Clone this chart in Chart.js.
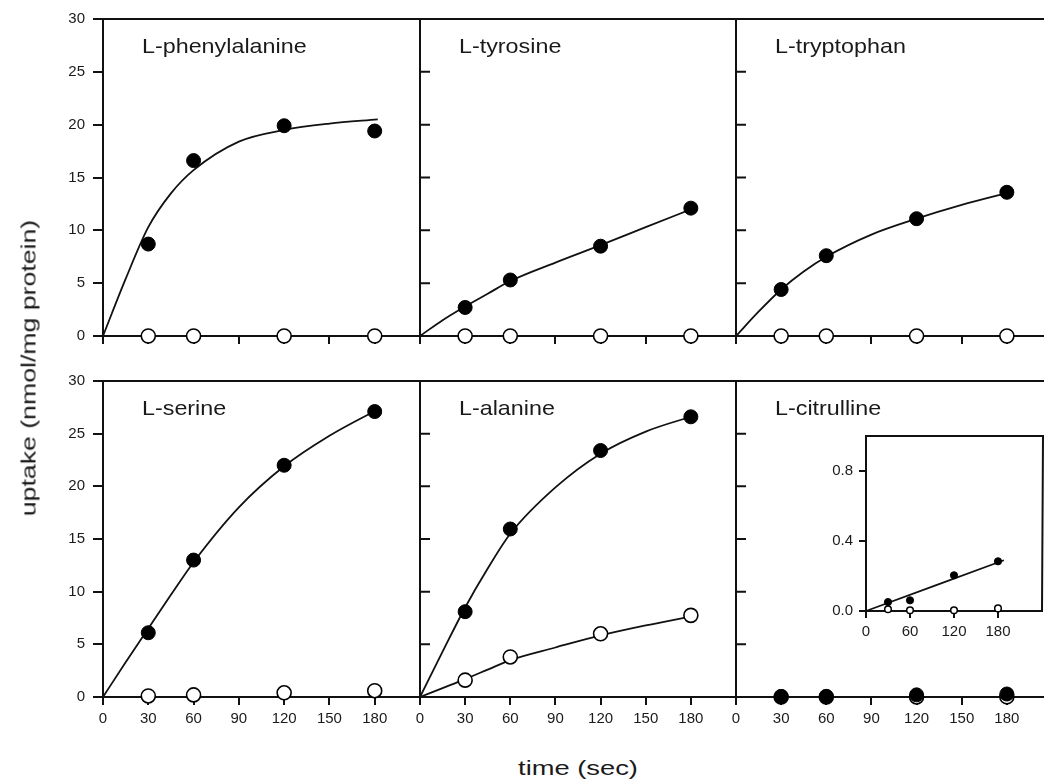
<!DOCTYPE html>
<html>
<head>
<meta charset="utf-8">
<title>Amino acid uptake</title>
<script src="https://cdn.jsdelivr.net/npm/chart.js@4.4.1/dist/chart.umd.min.js"></script>
<style>
  html, body { margin: 0; padding: 0; background: #fff; overflow: hidden; }
  body { width: 1044px; height: 782px; position: relative; font-family: "Liberation Sans", Arial, sans-serif; color: #1a1a1a; }
  .panel { position: absolute; }
  .axis-title { position: absolute; font-size: 21px; line-height: 1; white-space: nowrap; }
  #ytitle { left: 28px; top: 368px; transform: translate(-50%, -50%) rotate(-90deg) scaleX(1.27); }
  #xtitle { left: 578px; top: 767px; transform: translate(-50%, -50%) scaleX(1.3); }
</style>
</head>
<body>
<div id="p0" class="panel"><canvas></canvas></div>
<div id="p1" class="panel"><canvas></canvas></div>
<div id="p2" class="panel"><canvas></canvas></div>
<div id="p3" class="panel"><canvas></canvas></div>
<div id="p4" class="panel"><canvas></canvas></div>
<div id="p5" class="panel"><canvas></canvas></div>
<div id="inset" class="panel"><canvas></canvas></div>
<div id="ytitle" class="axis-title">uptake (nmol/mg protein)</div>
<div id="xtitle" class="axis-title">time (sec)</div>

<script>
// sampling times (sec) and the times at which the fitted curves are traced
const sampleTimes = [30, 60, 120, 180];
const fitTimes = [0, 15, 30, 45, 60, 90, 120, 150, 182];

const xTicks = [0, 30, 60, 90, 120, 150, 180];
const yTicks = [0, 5, 10, 15, 20, 25, 30];
const insetXTicks = [0, 60, 120, 180];
const insetYTicks = [0, 0.4, 0.8];

// uptake, nmol/mg protein (solid = filled circles, hollow = open circles)
const pheSolid = [8.7, 16.6, 19.9, 19.4];
const pheHollow = [0, 0, 0, 0];
const pheFit = [0, 5.4, 10.3, 13.5, 15.7, 18.4, 19.5, 20.1, 20.5];

const tyrSolid = [2.7, 5.3, 8.5, 12.1];
const tyrHollow = [0, 0, 0, 0];
const tyrFit = [0, 1.5, 2.8, 4.0, 5.2, 6.95, 8.6, 10.3, 12.1];

const trpSolid = [4.4, 7.6, 11.1, 13.6];
const trpHollow = [0, 0, 0, 0];
const trpFit = [0, 2.3, 4.4, 6.1, 7.5, 9.6, 11.1, 12.4, 13.6];

const serSolid = [6.1, 13.0, 22.0, 27.1];
const serHollow = [0.1, 0.2, 0.4, 0.6];
const serFit = [0, 3.3, 6.5, 9.7, 12.8, 18.0, 21.9, 24.8, 27.3];

const alaSolid = [8.1, 15.95, 23.4, 26.6];
const alaHollow = [1.6, 3.8, 6.0, 7.75];
const alaSolidFit = [0, 4.3, 8.5, 12.2, 15.5, 19.9, 23.1, 25.2, 26.7];
const alaHollowFit = [0, 0.85, 1.7, 2.6, 3.5, 4.7, 5.85, 6.8, 7.7];

const citSolid = [0.051, 0.061, 0.204, 0.284];
const citHollow = [0.010, 0.004, 0.004, 0.015];
const citFitTimes = [0, 188];
const citFit = [0, 0.29];

// panel frame geometry (page pixels)
const colLeft = [103, 420, 736];
const colWidth = [317, 316, 316];
const rowTop = [19, 381];
const rowHeight = [317, 316];
const PAD_L = 70, PAD_T = 12, PAD_R = 4, PAD_B = 40;

const INK = '#111';
const FONT = '"Liberation Sans", Arial, sans-serif';
Chart.defaults.font.family = FONT;
Chart.defaults.font.size = 15;
Chart.defaults.color = '#1a1a1a';

const pairs = (xs, ys) => xs.map((x, i) => ({ x: x, y: ys[i] }));

// top frame line, inward y ticks and the amino acid name
const panelDecor = {
  id: 'panelDecor',
  afterDraw(chart, args, opts) {
    const { ctx, chartArea: a } = chart;
    const y = chart.scales.y;
    ctx.save();
    ctx.strokeStyle = INK;
    ctx.lineWidth = 2;
    ctx.beginPath();
    ctx.moveTo(a.left - 1, a.top);
    ctx.lineTo(a.right + (opts.box ? 1 : 0), a.top);
    if (opts.box) ctx.lineTo(a.right, a.bottom + 1);
    if (opts.innerTicks) {
      y.ticks.forEach(t => {
        const py = y.getPixelForValue(t.value);
        ctx.moveTo(a.left, py);
        ctx.lineTo(a.left + 10, py);
      });
    }
    ctx.stroke();
    if (opts.label) {
      ctx.font = '21px ' + FONT;
      ctx.fillStyle = '#1a1a1a';
      ctx.textBaseline = 'alphabetic';
      ctx.translate(a.left + 39, a.top + 33.5);
      ctx.scale(1.11, 1);
      ctx.fillText(opts.label, 0, 0);
    }
    ctx.restore();
  }
};

function solidSet(xs, ys, r) {
  return { data: pairs(xs, ys), showLine: false, clip: false, pointRadius: r,
    pointBackgroundColor: '#000', pointBorderColor: '#000', pointBorderWidth: 1 };
}
function hollowSet(xs, ys, r, bw) {
  return { data: pairs(xs, ys), showLine: false, clip: false, pointRadius: r,
    pointBackgroundColor: '#fff', pointBorderColor: '#000', pointBorderWidth: bw };
}
function fitSet(xs, ys) {
  return { data: pairs(xs, ys), showLine: true, clip: false, pointRadius: 0,
    borderColor: INK, borderWidth: 1.8, fill: false, cubicInterpolationMode: 'monotone' };
}

function axis(opts) {
  return {
    type: 'linear', min: opts.min, max: opts.max,
    afterBuildTicks: s => { s.ticks = opts.ticks.map(v => ({ value: v })); },
    afterFit: s => {
      opts.fit(s);
      s.paddingLeft = s.paddingRight = s.paddingTop = s.paddingBottom = 0;
    },
    grid: { display: opts.tickMarks, drawOnChartArea: false, drawTicks: true,
      tickLength: opts.tickLength, color: INK, lineWidth: 2 },
    border: { display: true, color: INK, width: 2 },
    ticks: { display: opts.labels, padding: opts.padding, autoSkip: false, maxRotation: 0,
      callback: opts.format || (v => String(v)) }
  };
}

function makeChart(el, datasets, scales, decor) {
  return new Chart(el.querySelector('canvas'), {
    type: 'scatter',
    data: { datasets: datasets },
    options: {
      responsive: true, maintainAspectRatio: false, animation: false, events: [],
      layout: { autoPadding: false, padding: { top: PAD_T, right: PAD_R, left: 0, bottom: 0 } },
      plugins: { legend: { display: false }, tooltip: { enabled: false }, panelDecor: decor },
      scales: scales
    },
    plugins: [panelDecor]
  });
}

const panels = [
  { id: 'p0', row: 0, col: 0, name: 'L-phenylalanine', solid: pheSolid, hollow: pheHollow, fits: [pheFit] },
  { id: 'p1', row: 0, col: 1, name: 'L-tyrosine', solid: tyrSolid, hollow: tyrHollow, fits: [tyrFit] },
  { id: 'p2', row: 0, col: 2, name: 'L-tryptophan', solid: trpSolid, hollow: trpHollow, fits: [trpFit] },
  { id: 'p3', row: 1, col: 0, name: 'L-serine', solid: serSolid, hollow: serHollow, fits: [serFit] },
  { id: 'p4', row: 1, col: 1, name: 'L-alanine', solid: alaSolid, hollow: alaHollow, fits: [alaSolidFit, alaHollowFit] },
  { id: 'p5', row: 1, col: 2, name: 'L-citrulline', solid: citSolid, hollow: citHollow, fits: [] }
];

panels.forEach(p => {
  const el = document.getElementById(p.id);
  el.style.left = (colLeft[p.col] - PAD_L) + 'px';
  el.style.top = (rowTop[p.row] - PAD_T) + 'px';
  el.style.width = (colWidth[p.col] + PAD_L + PAD_R) + 'px';
  el.style.height = (rowHeight[p.row] + PAD_T + PAD_B) + 'px';

  const firstCol = p.col === 0;
  const bottomRow = p.row === 1;
  const datasets = [solidSet(sampleTimes, p.solid, 7), hollowSet(sampleTimes, p.hollow, 7, 1.6)]
    .concat(p.fits.map(f => fitSet(fitTimes, f)));

  makeChart(el, datasets, {
    x: axis({ min: 0, max: 210, ticks: xTicks, tickMarks: true, tickLength: 8,
      labels: bottomRow, padding: 5, fit: s => { s.height = PAD_B; } }),
    y: axis({ min: 0, max: 30, ticks: yTicks, tickMarks: firstCol, tickLength: 10,
      labels: firstCol, padding: 8, fit: s => { s.width = PAD_L; } })
  }, { label: p.name, innerTicks: !firstCol, box: false });
});

// inset: L-citrulline on an expanded uptake scale
const insetEl = document.getElementById('inset');
const IN_L = 40, IN_B = 34;
insetEl.style.left = (866 - IN_L) + 'px';
insetEl.style.top = (436 - PAD_T) + 'px';
insetEl.style.width = (176 + IN_L + PAD_R) + 'px';
insetEl.style.height = (175 + PAD_T + IN_B) + 'px';

makeChart(insetEl, [
  solidSet(sampleTimes, citSolid, 3.6),
  hollowSet(sampleTimes, citHollow, 3.3, 1.5),
  fitSet(citFitTimes, citFit)
], {
  x: axis({ min: 0, max: 240, ticks: insetXTicks, tickMarks: true, tickLength: 7,
    labels: true, padding: 5, fit: s => { s.height = IN_B; } }),
  y: axis({ min: 0, max: 1.0, ticks: insetYTicks, tickMarks: true, tickLength: 7,
    labels: true, padding: 6, format: v => v.toFixed(1), fit: s => { s.width = IN_L; } })
}, { box: true });
</script>
</body>
</html>
